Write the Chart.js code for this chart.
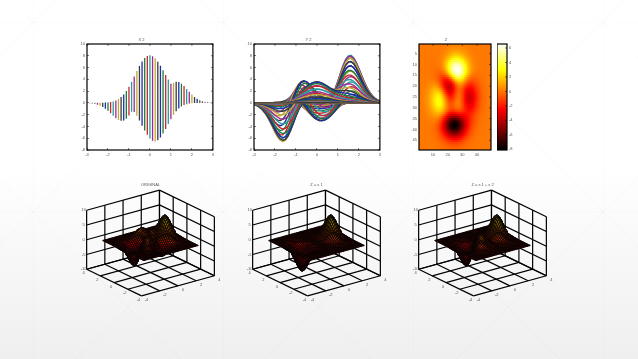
<!DOCTYPE html>
<html lang="en">
<head>
<meta charset="UTF-8">
<title>Peaks decomposition</title>
<script src="https://cdn.jsdelivr.net/npm/chart.js@4/dist/chart.umd.js"></script>
<style>
  html, body { margin: 0; width: 638px; height: 359px; overflow: hidden; }
  body {
    position: relative;
    background-color: #fff;
    background-image:
      url("data:image/svg+xml,%3Csvg xmlns='http://www.w3.org/2000/svg' width='190' height='190'%3E%3Cpath d='M0 0L190 190M190 0L0 190M0 0V190M0 0H190' stroke='%23000' stroke-opacity='.022' fill='none'/%3E%3C/svg%3E"),
      linear-gradient(to bottom, rgba(255,255,255,0) 0, rgba(255,255,255,0) 170px, #efefef 359px);
    background-position: 33px 22px, 0 0;
  }
  canvas { position: absolute; }
</style>
</head>
<body>
<canvas id="stems" style="left:69px;top:32px" width="149" height="128"></canvas>
<canvas id="lines" style="left:235.5px;top:32px" width="149" height="128"></canvas>
<canvas id="image" style="left:401px;top:32px" width="94" height="128"></canvas>
<canvas id="bar" style="left:497px;top:32px" width="22" height="128"></canvas>
<canvas id="surf1" style="left:75px;top:180px" width="150" height="130"></canvas>
<canvas id="surf2" style="left:241px;top:180px" width="150" height="130"></canvas>
<canvas id="surf3" style="left:407px;top:180px" width="150" height="130"></canvas>
<script>
// sample positions along both directions
const gridPos = [-3,-2.875,-2.75,-2.625,-2.5,-2.375,-2.25,-2.125,-2,-1.875,-1.75,-1.625,-1.5,-1.375,-1.25,-1.125,-1,-0.875,-0.75,-0.625,-0.5,-0.375,-0.25,-0.125,0,0.125,0.25,0.375,0.5,0.625,0.75,0.875,1,1.125,1.25,1.375,1.5,1.625,1.75,1.875,2,2.125,2.25,2.375,2.5,2.625,2.75,2.875,3];

// the three components of the surface, x profile and y profile of each
const xMode1 = [0.001,0.003,0.005,0.010,0.019,0.036,0.063,0.109,0.183,0.297,0.468,0.713,1.054,1.510,2.096,2.820,3.679,4.650,5.698,6.766,7.788,8.688,9.394,9.845,10,9.845,9.394,8.688,7.788,6.766,5.698,4.650,3.679,2.820,2.096,1.510,1.054,0.713,0.468,0.297,0.183,0.109,0.063,0.036,0.019,0.010,0.005,0.003,0.001];
const yMode1 = [-0.030,-0.051,-0.083,-0.127,-0.189,-0.268,-0.363,-0.472,-0.586,-0.688,-0.768,-0.808,-0.800,-0.743,-0.640,-0.508,-0.368,-0.239,-0.135,-0.065,-0.024,-0.006,-0.001,0,0,0,0.001,0.006,0.024,0.065,0.135,0.239,0.368,0.508,0.640,0.743,0.800,0.808,0.768,0.688,0.586,0.472,0.363,0.268,0.189,0.127,0.083,0.051,0.030];
const xMode2 = [0.006,0.012,0.022,0.040,0.071,0.121,0.201,0.320,0.495,0.737,1.062,1.474,1.976,2.555,3.184,3.823,4.415,4.905,5.235,5.359,5.257,4.928,4.403,3.738,3,2.261,1.585,1.018,0.584,0.285,0.107,0.022,0,0.013,0.039,0.064,0.079,0.084,0.079,0.068,0.055,0.041,0.030,0.020,0.013,0.008,0.005,0.003,0.001];
const yMode2 = [0.018,0.030,0.047,0.071,0.105,0.151,0.210,0.282,0.368,0.465,0.570,0.677,0.779,0.869,0.939,0.985,1,0.985,0.939,0.869,0.779,0.677,0.570,0.465,0.368,0.282,0.210,0.151,0.105,0.071,0.047,0.030,0.018,0.011,0.006,0.004,0.002,0.001,0.001,0,0,0,0,0,0,0,0,0,0];
const xMode3 = [-0.038,-0.070,-0.121,-0.203,-0.327,-0.509,-0.763,-1.094,-1.514,-2.001,-2.534,-3.054,-3.501,-3.800,-3.883,-3.709,-3.276,-2.629,-1.862,-1.096,-0.455,-0.032,0.133,0.072,-0.123,-0.321,-0.393,-0.244,0.160,0.782,1.533,2.291,2.937,3.377,3.568,3.509,3.240,2.828,2.344,1.846,1.391,1.000,0.693,0.459,0.292,0.179,0.105,0.060,0.032];
const yMode3 = [0,0,0.001,0.001,0.002,0.004,0.006,0.011,0.018,0.030,0.047,0.071,0.105,0.151,0.210,0.282,0.368,0.465,0.570,0.677,0.779,0.869,0.939,0.985,1,0.985,0.939,0.869,0.779,0.677,0.570,0.465,0.368,0.282,0.210,0.151,0.105,0.071,0.047,0.030,0.018,0.011,0.006,0.004,0.002,0.001,0.001,0,0];

const panelTitles = ['X 2', 'Y 2', 'Z'];
const surfaceTitles = ['ORIGINAL', 'Z = s 1', 'Z = s 1 + s 2'];
const valueTicks = [-8,-6,-4,-2,0,2,4,6,8,10];
const posTicks = [-3,-2,-1,0,1,2,3];
const imageXTicks = [10,20,30,40];
const imageYTicks = [5,10,15,20,25,30,35,40,45];
const barTicks = [-8,-6,-4,-2,0,2,4,6];
const cubeTicks = [-4,-2,0,2,4];
const cubeZTicks = [-10,-5,0,5,10];
const lineColors = ['#1a2fa8','#1f7a3a','#c2282d','#2a9da0','#a02a90','#bfa93a','#3a3a3a'];

const viewAzimuth = 37 * Math.PI / 180;
const viewElevation = 21.5 * Math.PI / 180;
const viewScale = 11.4;
const zScale = 2.95;
const imageMin = -8.1, imageMax = 6.55;

const font = { size: 4, family: '"Liberation Sans", sans-serif' };
const textColor = '#555';

// sum of components, Z[i][j] is x = gridPos[i], y = gridPos[j]
function addModes(modes) {
  return gridPos.map((_, i) => gridPos.map((_, j) => modes.reduce((s, m) => s + m[0][i] * m[1][j], 0)));
}
const zOne = addModes([[xMode1, yMode1]]);
const zTwo = addModes([[xMode1, yMode1], [xMode2, yMode2]]);
const Z = addModes([[xMode1, yMode1], [xMode2, yMode2], [xMode3, yMode3]]);

function hot(p) {
  const c = v => Math.max(0, Math.min(1, v));
  return [c(p / 0.375), c((p - 0.375) / 0.375), c((p - 0.75) / 0.25)].map(v => v * 255);
}
function css(rgb, k) {
  return 'rgb(' + rgb.map(v => Math.round(v * k)).join(',') + ')';
}

// box around the plot area with inward ticks on the far sides
const framePlugin = {
  id: 'frame',
  afterDraw(chart) {
    const { ctx, chartArea: a, scales } = chart;
    ctx.save();
    ctx.strokeStyle = '#000';
    ctx.lineWidth = 1.2;
    ctx.strokeRect(a.left, a.top, a.right - a.left, a.bottom - a.top);
    ctx.lineWidth = 0.5;
    ctx.beginPath();
    if (scales.x.options.display) scales.x.ticks.forEach(t => {
      const px = scales.x.getPixelForValue(t.value);
      ctx.moveTo(px, a.top); ctx.lineTo(px, a.top + 2);
    });
    scales.y.ticks.forEach(t => {
      const py = scales.y.getPixelForValue(t.value);
      ctx.moveTo(a.right, py); ctx.lineTo(a.right - 2, py);
    });
    ctx.stroke();
    ctx.restore();
  }
};

function tickAxis(tickList, extra) {
  return Object.assign({
    type: 'linear',
    grid: { drawOnChartArea: false, tickLength: -2, tickWidth: 0.5, tickColor: '#000' },
    border: { display: false },
    ticks: { font, color: textColor, autoSkip: false, maxRotation: 0, padding: 4 },
    afterBuildTicks: s => { s.ticks = tickList.map(v => ({ value: v })); }
  }, extra);
}
const xAxis = (list, extra) => tickAxis(list, Object.assign({ afterFit: s => { s.height = 10; } }, extra));
const yAxis = (list, extra) => tickAxis(list, Object.assign({ afterFit: s => { s.width = 18; } }, extra));

function baseOptions(title, scales) {
  return {
    responsive: false,
    animation: false,
    events: [],
    layout: { padding: { right: 4 } },
    plugins: {
      legend: { display: false },
      tooltip: { enabled: false },
      title: { display: !!title, text: title, font: Object.assign({ weight: 'normal' }, font), color: textColor, padding: { top: 5.2, bottom: 2 } }
    },
    scales
  };
}

// X 2: one vertical line per x position
new Chart(document.getElementById('stems'), {
  type: 'scatter',
  data: {
    datasets: gridPos.map((x, i) => ({
      data: gridPos.map((_, j) => ({ x, y: Z[i][j] })),
      showLine: true, pointRadius: 0, borderWidth: 1.3,
      borderColor: lineColors[i % lineColors.length]
    }))
  },
  options: baseOptions(panelTitles[0], {
    x: xAxis(posTicks, { min: -3, max: 3 }),
    y: yAxis(valueTicks, { min: -8, max: 10 })
  }),
  plugins: [framePlugin]
});

// Y 2: one curve per x position, along y
new Chart(document.getElementById('lines'), {
  type: 'scatter',
  data: {
    datasets: gridPos.map((_, i) => ({
      data: gridPos.map((y, j) => ({ x: y, y: Z[i][j] })),
      showLine: true, pointRadius: 0, borderWidth: 1.4, order: -i,
      borderColor: lineColors[i % lineColors.length]
    }))
  },
  options: baseOptions(panelTitles[1], {
    x: xAxis(posTicks, { min: -3, max: 3 }),
    y: yAxis(valueTicks, { min: -8, max: 10 })
  }),
  plugins: [framePlugin]
});

// Z image, drawn as one floating bar per cell, negated and row 1 on top
const cellColor = (i, j) => css(hot((-Z[i][j] - imageMin) / (imageMax - imageMin)), 1);
new Chart(document.getElementById('image'), {
  type: 'bar',
  data: {
    labels: gridPos.map((_, i) => String(i + 1)),
    datasets: gridPos.map((_, j) => ({
      data: gridPos.map(() => [j + 0.5, j + 1.5]),
      backgroundColor: gridPos.map((_, i) => cellColor(i, j)),
      inflateAmount: 0.6, grouped: false, categoryPercentage: 1, barPercentage: 1
    }))
  },
  options: baseOptions(panelTitles[2], {
    x: xAxis([], {
      type: 'category',
      afterBuildTicks: s => { s.ticks = imageXTicks.map(v => ({ value: v - 1 })); }
    }),
    y: yAxis(imageYTicks, { min: 0.5, max: 49.5, reverse: true })
  }),
  plugins: [framePlugin]
});

// colour bar
const barLevels = [];
for (let k = 0; k < 64; k++) barLevels.push(imageMin + (imageMax - imageMin) * k / 64);
const barStep = (imageMax - imageMin) / 64;
const barOptions = baseOptions('', {
  x: { display: false },
  y: yAxis(barTicks, { min: imageMin, max: imageMax, position: 'right', afterFit: s => { s.width = 12; } })
});
barOptions.layout.padding = { top: 12, bottom: 10, right: 0 };
new Chart(document.getElementById('bar'), {
  type: 'bar',
  data: {
    labels: [''],
    datasets: barLevels.map((v, k) => ({
      data: [[v, v + barStep]],
      backgroundColor: css(hot((k + 0.5) / 64), 1),
      inflateAmount: 0.6, grouped: false, categoryPercentage: 1, barPercentage: 1
    }))
  },
  options: barOptions,
  plugins: [framePlugin]
});

// 3D panels: data is projected to the view plane, the chart scales place it
const sa = Math.sin(viewAzimuth), ca = Math.cos(viewAzimuth), se = Math.sin(viewElevation);
const project = (x, y, z) => ({
  x: viewScale * (x * ca - y * sa),
  y: viewScale * (x * sa + y * ca) * se + z * zScale
});
const depth = (x, y) => x * sa + y * ca;

const cubeLabelsPlugin = {
  id: 'cubeLabels',
  afterDraw(chart) {
    const { ctx, scales } = chart;
    const put = (p, dx, dy, text) => ctx.fillText(text, scales.x.getPixelForValue(p.x) + dx, scales.y.getPixelForValue(p.y) + dy);
    ctx.save();
    ctx.font = '4px "Liberation Sans", sans-serif';
    ctx.fillStyle = textColor;
    ctx.textAlign = 'center';
    ctx.textBaseline = 'middle';
    cubeZTicks.forEach(v => put(project(-4, 4, v), -3, 0, String(v)));
    cubeTicks.forEach(v => put(project(-4, v, -10), -3, 4, String(v)));
    cubeTicks.forEach(v => put(project(v, -4, -10), 5, 4, String(v)));
    put({ x: 0, y: project(4, 4, 10).y }, 0, -5, chart.options.plugins.cubeLabels.title);
    ctx.restore();
  }
};

function segment(a, b, width) {
  return {
    data: [a, b], showLine: true, pointRadius: 0, fill: false,
    borderColor: '#000', borderWidth: width, clip: false
  };
}

function cubeDatasets() {
  const out = [];
  cubeTicks.forEach(v => {
    out.push(segment(project(v, -4, -10), project(v, 4, -10), 1.2));
    out.push(segment(project(-4, v, -10), project(4, v, -10), 1.2));
    out.push(segment(project(v, 4, -10), project(v, 4, 10), 1.2));
    out.push(segment(project(4, v, -10), project(4, v, 10), 1.2));
  });
  cubeZTicks.forEach(v => {
    out.push(segment(project(-4, 4, v), project(4, 4, v), 1.2));
    out.push(segment(project(4, 4, v), project(4, -4, v), 1.2));
  });
  return out;
}

function surfaceDatasets(grid) {
  const cells = [];
  for (let i = 0; i < gridPos.length - 1; i++) {
    for (let j = 0; j < gridPos.length - 1; j++) {
      // mesh x runs along the second index of the grid
      const c = [[i, j], [i, j + 1], [i + 1, j + 1], [i + 1, j]];
      const pts = c.map(([a, b]) => project(gridPos[b], gridPos[a], grid[a][b]));
      const mean = c.reduce((s, [a, b]) => s + grid[a][b], 0) / 4;
      pts.push(pts[0]);
      cells.push({
        d: depth(gridPos[j], gridPos[i]),
        set: {
          data: pts, showLine: true, pointRadius: 0, fill: 'shape',
          backgroundColor: css(hot(0.1 + 0.68 * (mean + 6.55) / 14.65), 0.75),
          borderColor: '#0a0505', borderWidth: 0.9, clip: false
        }
      });
    }
  }
  // first dataset is painted last, so nearest cells go first
  cells.sort((a, b) => a.d - b.d);
  return cells.map(c => c.set);
}

[[Z, 'surf1'], [zOne, 'surf2'], [zTwo, 'surf3']].forEach(([grid, id], n) => {
  new Chart(document.getElementById(id), {
    type: 'scatter',
    data: { datasets: surfaceDatasets(grid).concat(cubeDatasets()) },
    options: {
      responsive: false,
      animation: false,
      events: [],
      plugins: {
        legend: { display: false },
        tooltip: { enabled: false },
        cubeLabels: { title: surfaceTitles[n] }
      },
      scales: {
        x: { type: 'linear', display: false, min: -75.5, max: 74.5 },
        y: { type: 'linear', display: false, min: -67, max: 63 }
      }
    },
    plugins: [cubeLabelsPlugin]
  });
});
</script>
</body>
</html>
